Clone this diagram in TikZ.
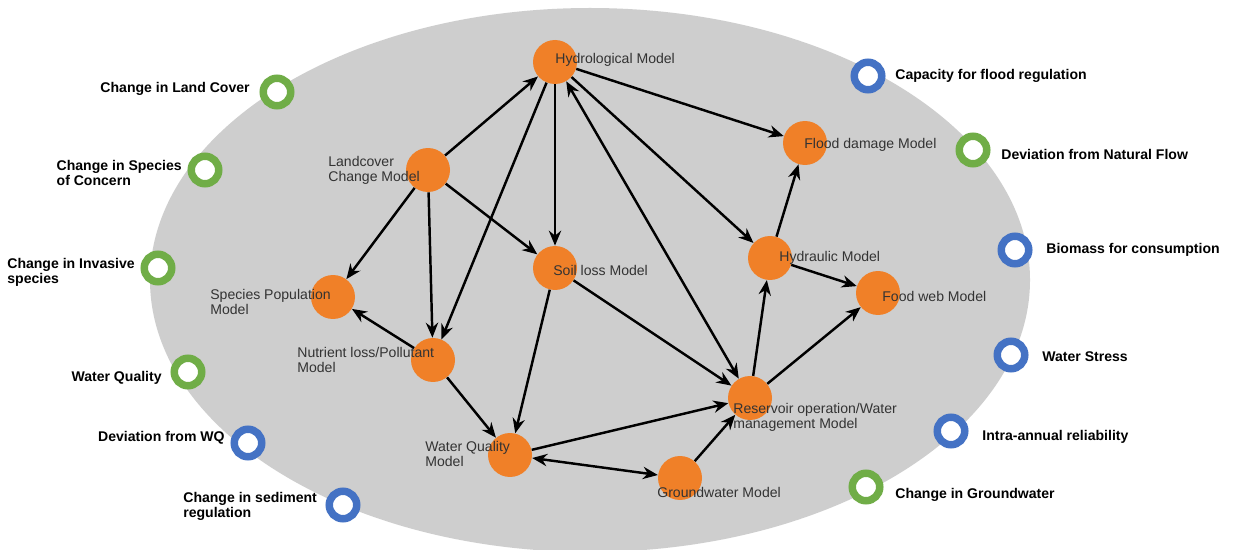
\documentclass[tikz,border=0pt]{standalone}
\usepackage{fontspec}
\setmainfont{Liberation Sans}
\usetikzlibrary{arrows.meta}
\definecolor{modelorange}{RGB}{240,128,40}
\definecolor{indgreen}{RGB}{112,173,71}
\definecolor{indblue}{RGB}{68,114,196}
\definecolor{ovalgray}{RGB}{206,206,206}
\begin{document}
\begin{tikzpicture}[
        x=0.02cm, y=-0.02cm,
        >={Stealth[length=8.5pt,width=7pt]},
        model/.style={circle, fill=modelorange, minimum size=0.88cm, inner sep=0pt},
        mtext/.style={anchor=west, align=left, text=black!80, inner sep=0pt,
            font=\fontsize{8}{8.5}\selectfont},
        ring/.style={circle, draw=#1, line width=0.15cm, fill=white,
            minimum size=0.55cm, inner sep=0pt},
        itext/.style={align=left, inner sep=0pt,
            font=\bfseries\fontsize{8}{8.5}\selectfont},
        link/.style={->, line width=1.4pt}
    ]
    % page and background oval
    \clip (0,0) rectangle (1233,550);
    \fill[white] (0,0) rectangle (1233,550);
    \fill[ovalgray] (590,280) ellipse [x radius=440, y radius=272];

    % models
    \node[model] (hydro) at (555,62) {};
    \node[model] (land) at (428,170) {};
    \node[model] (soil) at (555,268) {};
    \node[model] (species) at (333,297) {};
    \node[model] (nutrient) at (433,360) {};
    \node[model] (wq) at (510,455) {};
    \node[model] (ground) at (680,478) {};
    \node[model] (reservoir) at (750,398) {};
    \node[model] (hydraulic) at (770,258) {};
    \node[model] (flood) at (805,143) {};
    \node[model] (food) at (878,293) {};

    % links between models
    \draw[link] (land) -- (hydro);
    \draw[link] (land) -- (species);
    \draw[link] (land) -- (nutrient);
    \draw[link] (land) -- (soil);
    \draw[link] (hydro) -- (soil);
    \draw[link] (hydro) -- (nutrient);
    \draw[link] (hydro) -- (flood);
    \draw[link] (hydro) -- (hydraulic);
    \draw[link, <->] (hydro) -- (reservoir);
    \draw[link] (soil) -- (wq);
    \draw[link] (soil) -- (reservoir);
    \draw[link] (nutrient) -- (species);
    \draw[link] (nutrient) -- (wq);
    \draw[link] (wq) -- (reservoir);
    \draw[link, <->] (wq) -- (ground);
    \draw[link] (ground) -- (reservoir);
    \draw[link] (reservoir) -- (hydraulic);
    \draw[link] (reservoir) -- (food);
    \draw[link] (hydraulic) -- (flood);
    \draw[link] (hydraulic) -- (food);

    % model names
    \node[mtext] (hydrot) at (555,60) {Hydrological Model};
    \node[mtext] (landt) at (328,170) {Landcover\\Change Model};
    \node[mtext] (soilt) at (553,270) {Soil loss Model};
    \node[mtext] (speciest) at (210,302) {Species Population\\Model};
    \node[mtext] (nutrientt) at (297,360) {Nutrient loss/Pollutant\\Model};
    \node[mtext] (wqt) at (425,454) {Water Quality\\Model};
    \node[mtext] (groundt) at (657,492) {Groundwater Model};
    \node[mtext] (reservoirt) at (733,417) {Reservoir operation/Water\\management Model};
    \node[mtext] (hydraulict) at (779,258) {Hydraulic Model};
    \node[mtext] (floodt) at (804,145) {Flood damage Model};
    \node[mtext] (foodt) at (882,296) {Food web Model};

    % indicators, left side
    \node[ring=indgreen] (landcover) at (277,92) {};
    \node[ring=indgreen] (concern) at (205,170) {};
    \node[ring=indgreen] (invasive) at (158,268) {};
    \node[ring=indgreen] (quality) at (188,372) {};
    \node[ring=indblue] (devwq) at (248,443) {};
    \node[ring=indblue] (sediment) at (343,505) {};
    \node[itext, anchor=east] (landcovert) at (250,89) {Change in Land Cover};
    \node[itext, anchor=east] (concernt) at (182,173) {Change in Species\\of Concern};
    \node[itext, anchor=west] (invasivet) at (7,272) {Change in Invasive\\species};
    \node[itext, anchor=east] (qualityt) at (162,378) {Water Quality};
    \node[itext, anchor=east] (devwqt) at (225,438) {Deviation from WQ};
    \node[itext, anchor=west] (sedimentt) at (183,506) {Change in sediment\\regulation};

    % indicators, right side
    \node[ring=indblue] (capacity) at (868,76) {};
    \node[ring=indgreen] (natural) at (973,150) {};
    \node[ring=indblue] (biomass) at (1015,250) {};
    \node[ring=indblue] (stress) at (1011,355) {};
    \node[ring=indblue] (intra) at (951,431) {};
    \node[ring=indgreen] (groundw) at (866,487) {};
    \node[itext, anchor=west] (capacityt) at (895,76) {Capacity for flood regulation};
    \node[itext, anchor=west] (naturalt) at (1001,154) {Deviation from Natural Flow};
    \node[itext, anchor=west] (biomasst) at (1046,250) {Biomass for consumption};
    \node[itext, anchor=west] (stresst) at (1042,357) {Water Stress};
    \node[itext, anchor=west] (intrat) at (982,437) {Intra-annual reliability};
    \node[itext, anchor=west] (groundwt) at (895,495) {Change in Groundwater};
\end{tikzpicture}
\end{document}
